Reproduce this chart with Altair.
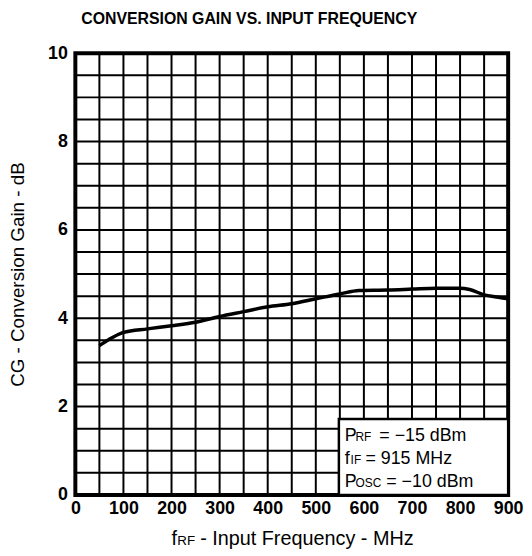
import altair as alt
import pandas as pd

# --- data ---
freq_mhz = [50, 70, 100, 150, 200, 250, 300, 350, 400, 450, 500, 550, 590, 650, 700, 750, 800, 820, 850, 875, 900]
gain_db = [3.38, 3.52, 3.68, 3.76, 3.83, 3.91, 4.04, 4.15, 4.26, 4.33, 4.44, 4.55, 4.63, 4.64, 4.66, 4.68, 4.68, 4.65, 4.53, 4.48, 4.44]

x_grid = [0, 50, 100, 150, 200, 250, 300, 350, 400, 450, 500, 550, 600, 650, 700, 750, 800, 850, 900]
y_grid = [0, 0.5, 1, 1.5, 2, 2.5, 3, 3.5, 4, 4.5, 5, 5.5, 6, 6.5, 7, 7.5, 8, 8.5, 9, 9.5, 10]
x_ticks = [0, 100, 200, 300, 400, 500, 600, 700, 800, 900]
y_ticks = [0, 2, 4, 6, 8, 10]

title_text = "CONVERSION GAIN VS. INPUT FREQUENCY"
y_title = "CG - Conversion Gain - dB"
x_title_parts = ["f", "RF", "- Input Frequency - MHz"]

# annotation box (data units)
box_x = [548, 900]
box_y = [0, 1.72]
note_x = 560
note_lines = [
    ["P", "RF", "= \u221215 dBm"],
    ["f", "IF", "= 915 MHz"],
    ["P", "OSC", "= \u221210 dBm"],
]
note_y = [1.21, 0.70, 0.17]

FONT = "Liberation Sans"
W, H = 437, 446

xs = alt.Scale(domain=[0, 900], nice=False, zero=False)
ys = alt.Scale(domain=[0, 10], nice=False, zero=False)

df = pd.DataFrame({"f": freq_mhz, "g": gain_db})

x_axis = alt.Axis(values=x_ticks, format="d", grid=False, ticks=False, domain=False,
                  labelFlush=False, labelOverlap=False,
                  labelFont=FONT, labelFontSize=18, labelFontWeight="bold", labelColor="black",
                  labelPadding=5, title=None)
y_axis = alt.Axis(values=y_ticks, format="d", grid=False, ticks=False, domain=False,
                  labelFlush=False, labelOverlap=False,
                  labelExpr="datum.value % 2 == 0 ? datum.label : ''",
                  labelFont=FONT, labelFontSize=18, labelFontWeight="bold", labelColor="black",
                  labelPadding=8,
                  title=y_title, titleFont=FONT, titleFontSize=19, titleFontWeight="normal",
                  titleColor="black", titleX=-58, titleY=223,
                  titleAngle=270, titleAlign="center", titleBaseline="middle")

vgrid = alt.Chart(pd.DataFrame({"v": x_grid})).mark_rule(color="black", strokeWidth=2).encode(
    x=alt.X("v:Q", scale=xs, axis=x_axis))
hgrid = alt.Chart(pd.DataFrame({"v": y_grid})).mark_rule(color="black", strokeWidth=2).encode(
    y=alt.Y("v:Q", scale=ys, axis=y_axis))

line = alt.Chart(df).mark_line(color="black", strokeWidth=3.5, interpolate="monotone").encode(
    x=alt.X("f:Q", scale=xs, axis=x_axis),
    y=alt.Y("g:Q", scale=ys, axis=y_axis),
)

box_df = pd.DataFrame({"x1": [box_x[0]], "x2": [box_x[1]], "y1": [box_y[0]], "y2": [box_y[1]]})
box = alt.Chart(box_df).mark_rect(fill="white", stroke="black", strokeWidth=2.5).encode(
    x=alt.X("x1:Q", scale=xs, axis=x_axis), x2="x2:Q",
    y=alt.Y("y1:Q", scale=ys, axis=y_axis), y2="y2:Q",
)

layers = [vgrid, hgrid, line, box]

# note text pieces: (dx for big letter, subscript, rest)
piece_dx = [[0, 11, 35], [0, 6, 21], [0, 11, 42]]
piece_size = [18, 12, 18]
for line_parts, yv, dxs in zip(note_lines, note_y, piece_dx):
    for txt, dx, fs in zip(line_parts, dxs, piece_size):
        d = pd.DataFrame({"x": [note_x], "y": [yv], "t": [txt]})
        layers.append(
            alt.Chart(d).mark_text(align="left", baseline="alphabetic", dx=dx, font=FONT,
                                   fontSize=fs, color="black").encode(
                x=alt.X("x:Q", scale=xs, axis=x_axis), y=alt.Y("y:Q", scale=ys, axis=y_axis),
                text="t:N")
        )

# x-axis title pieces (rich text with subscript)
xt_pos = [97, 103, 126]
xt_size = [20, 13.5, 20]
for txt, px, fs in zip(x_title_parts, xt_pos, xt_size):
    d = pd.DataFrame({"t": [txt]})
    layers.append(
        alt.Chart(d).mark_text(align="left", baseline="alphabetic", font=FONT, fontSize=fs,
                               color="black").encode(
            x=alt.value(px), y=alt.value(H + 51), text="t:N")
    )

# chart title
layers.append(
    alt.Chart(pd.DataFrame({"t": [title_text]})).mark_text(
        align="left", baseline="alphabetic", font=FONT, fontSize=16, fontWeight="bold",
        color="black").encode(x=alt.value(6), y=alt.value(-29), text="t:N")
)

chart = alt.layer(*layers).properties(
    width=W, height=H,
    autosize=alt.AutoSizeParams(type="none"),
    padding={"left": 68, "top": 43, "right": 16, "bottom": 58},
).configure(background="white", view=alt.ViewConfig(stroke="black", strokeWidth=4))

chart.save("out.html", embed_options={"renderer": "svg", "actions": False})
